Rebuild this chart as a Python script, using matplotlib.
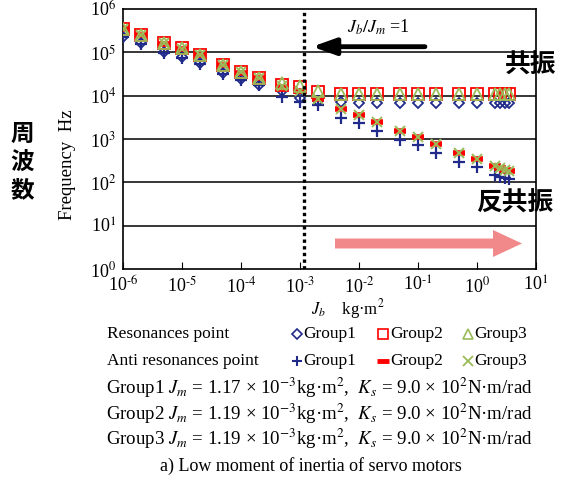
import numpy as np
import matplotlib
matplotlib.use("Agg")
import matplotlib.pyplot as plt
from matplotlib.lines import Line2D
from matplotlib.patches import FancyArrow

plt.rcParams['font.family'] = ['Liberation Serif', 'DejaVu Serif']
plt.rcParams['mathtext.fontset'] = 'stix'

# load inertia Jb (kg*m^2)
jb = [1e-6, 2e-6, 5e-6, 1e-5, 2e-5, 5e-5, 1e-4, 2e-4, 5e-4, 1e-3, 2e-3,
      5e-3, 1e-2, 2e-2, 5e-2, 0.1, 0.2, 0.5, 1, 2, 2.5, 3, 3.5]

# resonance frequencies (Hz)
res1 = [2.3e5, 1.6e5, 1.0e5, 7.6e4, 5.6e4, 3.3e4, 2.4e4, 1.8e4, 1.3e4, 9.0e3, 7.6e3,
        7.1e3, 6.7e3, 6.6e3, 6.6e3, 6.6e3, 6.6e3, 6.6e3, 6.6e3, 6.6e3, 6.6e3, 6.6e3, 6.6e3]
res2 = [3.5e5, 2.5e5, 1.6e5, 1.23e5, 8.7e4, 5.1e4, 3.5e4, 2.6e4, 1.8e4, 1.6e4, 1.2e4,
        1.12e4, 1.12e4, 1.12e4, 1.12e4, 1.12e4, 1.12e4, 1.12e4, 1.12e4, 1.12e4, 1.12e4, 1.12e4, 1.12e4]
res3 = [3.5e5, 2.5e5, 1.6e5, 1.23e5, 8.7e4, 5.1e4, 3.5e4, 2.6e4, 2.0e4, 1.7e4, 1.3e4,
        1.12e4, 1.12e4, 1.12e4, 1.12e4, 1.12e4, 1.12e4, 1.12e4, 1.12e4, 1.12e4, 1.12e4, 1.12e4, 1.12e4]

# anti resonance frequencies (Hz)
anti1 = [2.25e5, 1.58e5, 9.9e4, 7.4e4, 5.5e4, 3.2e4, 2.35e4, 1.75e4, 9.5e3, 7.2e3, 6.0e3,
         3.1e3, 2.3e3, 1.5e3, 9.5e2, 7.1e2, 4.8e2, 3.0e2, 2.2e2, 1.5e2, 1.35e2, 1.25e2, 1.2e2]
anti2 = [3.4e5, 2.45e5, 1.55e5, 1.2e5, 8.5e4, 5.0e4, 3.4e4, 2.5e4, 1.6e4, 1.25e4, 8.3e3,
         4.9e3, 3.5e3, 2.5e3, 1.5e3, 1.1e3, 7.6e2, 4.8e2, 3.5e2, 2.4e2, 2.1e2, 1.9e2, 1.8e2]
anti3 = [3.45e5, 2.5e5, 1.6e5, 1.2e5, 8.6e4, 5.0e4, 3.5e4, 2.5e4, 1.7e4, 1.3e4, 8.5e3,
         5.0e3, 3.5e3, 2.5e3, 1.5e3, 1.1e3, 7.5e2, 4.8e2, 3.5e2, 2.4e2, 2.1e2, 1.95e2, 1.8e2]

jm1 = 1.17e-3
xtick_labels = [r"10$^{\text{-}6}$", r"10$^{\text{-}5}$", r"10$^{\text{-}4}$", r"10$^{\text{-}3}$",
                r"10$^{\text{-}2}$", r"10$^{\text{-}1}$", "10$^{0}$", "10$^{1}$"]
ytick_labels = ["10$^{0}$", "10$^{1}$", "10$^{2}$", "10$^{3}$", "10$^{4}$",
                "10$^{5}$", "10$^{6}$"]

navy = "#1F2A8A"
red = "#FF0000"
green = "#9BBB59"
cjk = ['Noto Sans CJK JP', 'DejaVu Sans']

fig = plt.figure(figsize=(5.67, 4.8), dpi=100)
ax = fig.add_axes([123/567, 1-269/480, 413/567, 260/480])

ax.set_xscale('log')
ax.set_yscale('log')
ax.set_xlim(1e-6, 10)
ax.set_ylim(1, 1e6)

for y in [1e1, 1e2, 1e3, 1e4, 1e5]:
    ax.axhline(y, color='black', lw=1.1, zorder=1)

ax.plot(jb, res1, ls='none', marker='D', ms=5.5, mfc='none', mec=navy, mew=1.3, zorder=3)
ax.plot(jb, anti1, ls='none', marker='+', ms=8, mec=navy, mew=1.6, zorder=3)
ax.plot(jb, res2, ls='none', marker='s', ms=8.5, mfc='none', mec=red, mew=1.3, zorder=4)
ax.plot(jb, anti2, ls='none', marker='_', ms=9, mec=red, mew=4, zorder=4)
ax.plot(jb, res3, ls='none', marker='^', ms=8, mfc='none', mec=green, mew=1.3, zorder=5)
ax.plot(jb, anti3, ls='none', marker='x', ms=7.5, mec=green, mew=1.4, zorder=5)

ax.axvline(jm1, color='black', lw=2.4, ls=(0, (1, 1)), zorder=6)

ax.set_xticks([1e-6, 1e-5, 1e-4, 1e-3, 1e-2, 1e-1, 1, 10])
ax.set_xticklabels(xtick_labels)
ax.set_yticks([1, 1e1, 1e2, 1e3, 1e4, 1e5, 1e6])
ax.set_yticklabels(ytick_labels)
ax.minorticks_off()
ax.tick_params(axis='x', direction='in', length=5, labelsize=13, pad=5)
ax.tick_params(axis='y', direction='in', length=0, labelsize=13, pad=5)
for s in ax.spines.values():
    s.set_linewidth(1.2)

ax.annotate("", xy=(0.458, 0.855), xytext=(0.731, 0.855), xycoords='axes fraction',
            arrowprops=dict(arrowstyle="-|>,head_length=1.4,head_width=0.5",
                            lw=3.5, color='black', shrinkA=0, shrinkB=0))
ax.text(0.619, 0.93, "$J_b/J_m$ =1", transform=ax.transAxes, ha='center', va='center',
        fontsize=13)

fig.add_artist(FancyArrow(335/567, 1-243.5/480, 187/567, 0, width=10/480,
                          head_width=27/480, head_length=29/567, length_includes_head=True,
                          transform=fig.transFigure, color="#F07C7F", alpha=0.9, lw=0))

fig.text(531/567, 1-65/480, "共振", ha='center', va='center', fontsize=18.5,
         fontweight='bold', family=cjk)
fig.text(515/567, 1-203/480, "反共振", ha='center', va='center', fontsize=18.5,
         fontweight='bold', family=cjk)
fig.text(22/567, 1-162/480, "周\n波\n数", ha='center', va='center', fontsize=17,
         fontweight='bold', family=cjk, linespacing=1.2)

fig.text(68/567, 1-165/480, "Frequency  Hz", rotation=90, ha='center', va='center',
         fontsize=13.5)
fig.text(348/567, 1-309/480, "$J_b$    kg·m$^2$", ha='center', va='center', fontsize=12)

# legend block
fs = 12.5
row1 = 1-334/480
row2 = 1-361/480
fig.text(107/567, row1, "Resonances point", ha='left', va='center', fontsize=fs)
fig.text(107/567, row2, "Anti resonances point", ha='left', va='center', fontsize=fs)
legend_cols = [(297, 303), (383, 390), (468, 474)]
res_styles = [dict(marker='D', ms=5, mfc='none', mec=navy, mew=1.2),
              dict(marker='s', ms=7.5, mfc='none', mec=red, mew=1.2),
              dict(marker='^', ms=7.5, mfc='none', mec=green, mew=1.2)]
anti_styles = [dict(marker='+', ms=7, mec=navy, mew=1.5),
               dict(marker='_', ms=8, mec=red, mew=3.5),
               dict(marker='x', ms=6.5, mec=green, mew=1.3)]
for i, (mx, tx) in enumerate(legend_cols):
    fig.add_artist(Line2D([mx/567], [row1], ls='none', transform=fig.transFigure, **res_styles[i]))
    fig.add_artist(Line2D([mx/567], [row2], ls='none', transform=fig.transFigure, **anti_styles[i]))
    fig.text(tx/567, row1, "Group%d" % (i+1), ha='left', va='center', fontsize=fs)
    fig.text(tx/567, row2, "Group%d" % (i+1), ha='left', va='center', fontsize=fs)

group_lines = [
    "Group1 $J_m$ = 1.17 × 10$^{-3}$kg·m$^2$,  $K_s$ = 9.0 × 10$^2$N·m/rad",
    "Group2 $J_m$ = 1.19 × 10$^{-3}$kg·m$^2$,  $K_s$ = 9.0 × 10$^2$N·m/rad",
    "Group3 $J_m$ = 1.19 × 10$^{-3}$kg·m$^2$,  $K_s$ = 9.0 × 10$^2$N·m/rad",
]
for yy, s in zip([388, 414, 439], group_lines):
    fig.text(106/567, 1-yy/480, s, ha='left', va='center', fontsize=13.6)

fig.text(311/567, 1-466/480, "a) Low moment of inertia of servo motors", ha='center',
         va='center', fontsize=13)

fig.savefig("out.png", dpi=100)
